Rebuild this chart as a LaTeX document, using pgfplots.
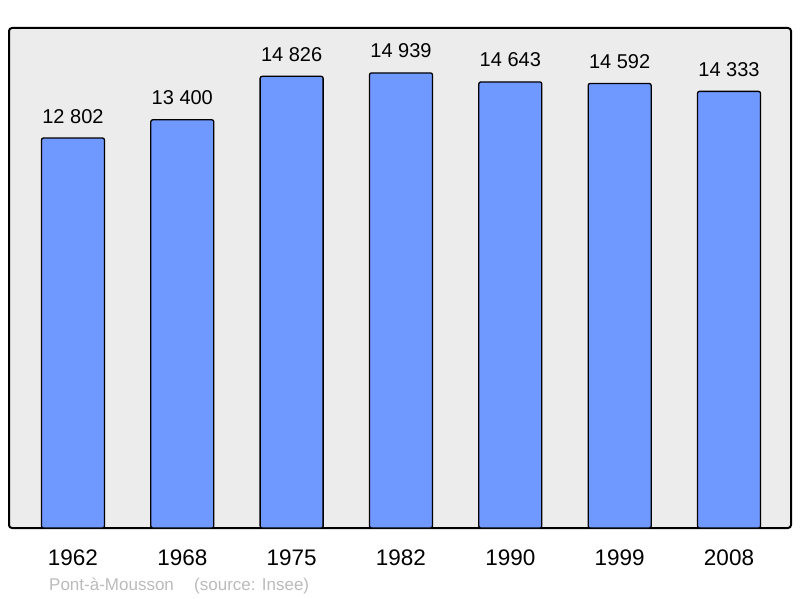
\documentclass[border=0pt]{standalone}
\usepackage{fontspec}
\setmainfont{Liberation Sans}
\usepackage{pgfplots}
\pgfplotsset{compat=1.18}
\definecolor{barblue}{HTML}{7099FF}
\definecolor{plotbg}{HTML}{ECECEC}
\definecolor{footgray}{HTML}{BBBBBB}
\begin{document}
\begin{tikzpicture}
\useasboundingbox (-9pt,-70pt) rectangle (791pt,528pt);
\begin{axis}[
    at={(0pt,0pt)}, anchor=south west,
    scale only axis,
    width=782pt, height=500pt,
    xmin=-0.585, xmax=6.567,
    ymin=0, ymax=16413,
    axis background/.style={fill=plotbg},
    axis line style={line width=2pt, rounded corners=3pt},
    ybar, bar width=63pt,
    xtick={0,1,2,3,4,5,6},
    xticklabels={1962,1968,1975,1982,1990,1999,2008},
    ytick=\empty,
    major tick length=0pt,
    xticklabel style={font=\fontsize{22.5}{26}\selectfont, anchor=base, yshift=-37pt},
    point meta=explicit symbolic,
    nodes near coords,
    every node near coord/.append style={font=\fontsize{20}{24}\selectfont, anchor=base, yshift=15pt, black},
    clip=false,
]
\addplot[fill=barblue, draw=black, line width=1.3pt, rounded corners=2pt] coordinates {
    (0,12802) [12 802]
    (1,13400) [13 400]
    (2,14826) [14 826]
    (3,14939) [14 939]
    (4,14643) [14 643]
    (5,14592) [14 592]
    (6,14333) [14 333]
};
\end{axis}
\node[anchor=base west, inner sep=0pt, text=footgray, font=\fontsize{17}{20}\selectfont] at (40pt,-62pt) {Pont-à-Mousson};
\node[anchor=base west, inner sep=0pt, text=footgray, font=\fontsize{17}{20}\selectfont] at (185pt,-62pt) {(source: Insee)};
\end{tikzpicture}
\end{document}
